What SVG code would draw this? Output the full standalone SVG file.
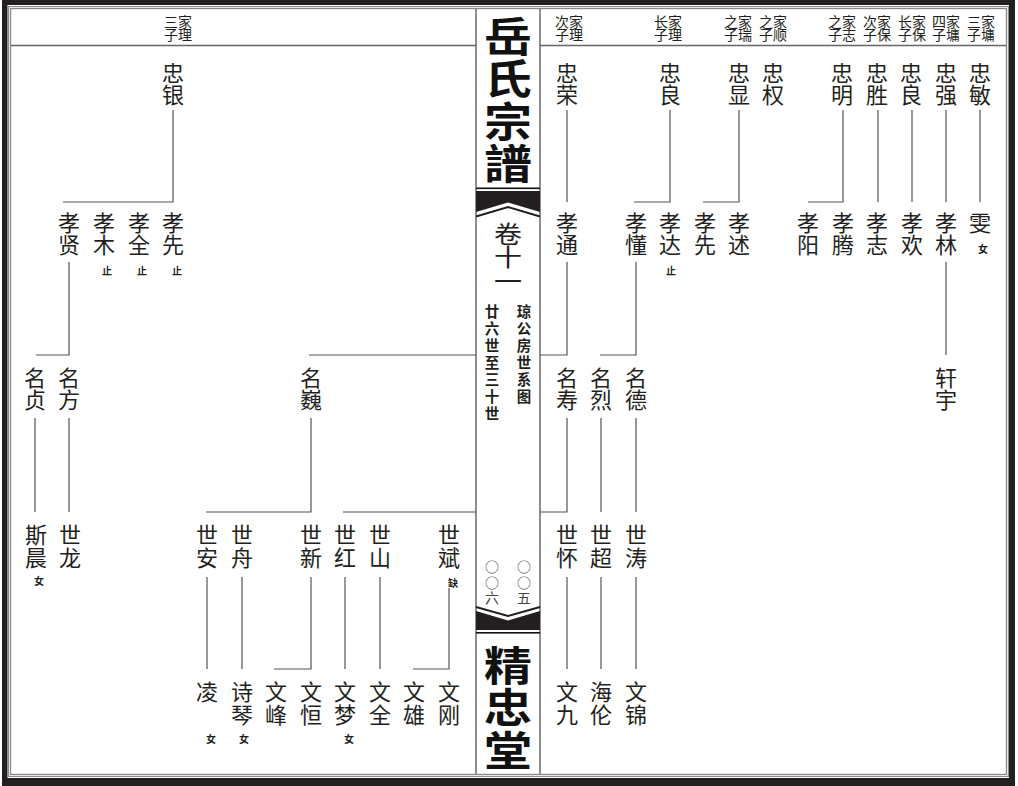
<svg xmlns="http://www.w3.org/2000/svg" width="1018" height="786" viewBox="0 0 1018 786">
<style>
text{font-family:"Noto Sans CJK SC","Noto Sans CJK TC",sans-serif;fill:#231f20;text-anchor:middle}
.n,.h,.m,.o,.t,.v{writing-mode:vertical-rl;text-anchor:start}
.n{font-size:22px;letter-spacing:0.5px}
.h{font-size:14px;letter-spacing:-0.5px}
.s{font-size:10px;font-weight:bold}
.t{font-size:48px;font-weight:bold;fill:#111;letter-spacing:2px}
.v{font-size:28px;letter-spacing:-0.4px}
.m{font-size:14.5px;font-weight:bold;letter-spacing:2.5px}
.o{font-size:14px;fill:#444;letter-spacing:1.5px}
.ln{fill:none;stroke:#555;stroke-width:1.2}
.fr{fill:none;stroke:#8a8a8a;stroke-width:1.2}
</style>
<rect width="1018" height="786" fill="#fff"/>
<g id="frame">
<path d="M2 0H1015V786H2Z M7.5 5V778H1009V5Z" fill="#231f20" fill-rule="evenodd"/>
<rect class="fr" x="8.6" y="6.6" width="999.8" height="769.8"/>
<rect class="fr" x="10.6" y="8.6" width="995.8" height="765.8"/>
<line x1="476" y1="9" x2="476" y2="774" stroke="#444" stroke-width="1.2"/>
<line x1="540" y1="9" x2="540" y2="774" stroke="#444" stroke-width="1.2"/>
<line x1="11" y1="45.5" x2="476" y2="45.5" stroke="#666" stroke-width="1.5"/>
<line x1="540" y1="45.5" x2="1006" y2="45.5" stroke="#666" stroke-width="1.5"/>
</g>
<g id="spine">
<text class="t" transform="translate(508,0) scale(1,0.85)" x="0" y="18.4">岳氏宗譜</text>
<rect x="476" y="187.5" width="64" height="1.6" fill="#111"/>
<polygon points="476,191 540,191 540,212 508,202.5 476,212" fill="#231f20"/>
<polyline points="476,216.5 508,207 540,216.5" fill="none" stroke="#231f20" stroke-width="2"/>
<text class="v" transform="translate(508,0) scale(1,0.85)" x="0" y="261.3">卷十一</text>
<text class="m" x="524" y="304.5">琼公房世系图</text>
<text class="m" x="492" y="304.5">廿六世至三十世</text>
<text class="o" x="524" y="560">○○五</text>
<text class="o" x="492" y="560">○○六</text>
<polyline points="476,607 508,616 540,607" fill="none" stroke="#231f20" stroke-width="2"/>
<polygon points="476,611 508,620.5 540,611 540,630 476,630" fill="#231f20"/>
<rect x="476" y="632" width="64" height="1.6" fill="#111"/>
<text class="t" transform="translate(508,0) scale(1,0.85)" x="0" y="758.4">精忠堂</text>
</g>
<g id="headers">
<text class="h" x="185" y="14.5">家理</text><text class="h" x="171" y="14.5">三子</text>
<text class="h" x="576" y="14.5">家理</text><text class="h" x="562" y="14.5">次子</text>
<text class="h" x="675" y="14.5">家理</text><text class="h" x="661" y="14.5">长子</text>
<text class="h" x="745" y="14.5">家瑞</text><text class="h" x="731" y="14.5">之子</text>
<text class="h" x="780" y="14.5">家顺</text><text class="h" x="766" y="14.5">之子</text>
<text class="h" x="849" y="14.5">家志</text><text class="h" x="835" y="14.5">之子</text>
<text class="h" x="884" y="14.5">家保</text><text class="h" x="870" y="14.5">次子</text>
<text class="h" x="919" y="14.5">家保</text><text class="h" x="905" y="14.5">长子</text>
<text class="h" x="953" y="14.5">家墉</text><text class="h" x="939" y="14.5">四子</text>
<text class="h" x="988" y="14.5">家墉</text><text class="h" x="974" y="14.5">三子</text>
</g>
<g id="connectors">
<path class="ln" d="M173 110V202H63"/>
<path class="ln" d="M69 262V355H36"/>
<path class="ln" d="M567 262V355H540M476 355H309"/>
<path class="ln" d="M311 418V512H206"/>
<path class="ln" d="M35 418V512M69 418V512"/>
<path class="ln" d="M567 418V512H540M476 512H343"/>
<path class="ln" d="M601 418V512M636 418V512"/>
<path class="ln" d="M636 262V355H600"/>
<path class="ln" d="M946 262V355"/>
<path class="ln" d="M207 577V669M242 577V669M345 577V669M380 577V669"/>
<path class="ln" d="M311 577V669H274"/>
<path class="ln" d="M449 588V669H413"/>
<path class="ln" d="M567 577V669M601 577V669M636 577V669"/>
<path class="ln" d="M567 110V202"/>
<path class="ln" d="M670 110V202H634"/>
<path class="ln" d="M739 110V202H703"/>
<path class="ln" d="M843 110V202H808"/>
<path class="ln" d="M878 110V202M912 110V202M946 110V202M980 110V202"/>
</g>
<g id="n-zhongyin"><text class="n" x="173" y="61.5">忠银</text></g>
<g id="n-xiaoxian"><text class="n" x="69" y="211.5">孝贤</text></g>
<g id="n-xiaomu"><text class="n" x="104" y="211.5">孝木</text><text class="s" x="107" y="275">止</text></g>
<g id="n-xiaoquan"><text class="n" x="139" y="211.5">孝全</text><text class="s" x="142" y="275">止</text></g>
<g id="n-xiaoxian2"><text class="n" x="173" y="211.5">孝先</text><text class="s" x="177" y="275">止</text></g>
<g id="n-mingzhen"><text class="n" x="35" y="366.5">名贞</text></g>
<g id="n-mingfang"><text class="n" x="69" y="366.5">名方</text></g>
<g id="n-mingwei"><text class="n" x="311" y="366.5">名巍</text></g>
<g id="n-sichen"><text class="n" x="36" y="524">斯晨</text><text class="s" x="39" y="584.5">女</text></g>
<g id="n-shilong"><text class="n" x="70" y="524">世龙</text></g>
<g id="n-shian"><text class="n" x="207" y="524">世安</text></g>
<g id="n-shizhou"><text class="n" x="242" y="524">世舟</text></g>
<g id="n-shixin"><text class="n" x="311" y="524">世新</text></g>
<g id="n-shihong"><text class="n" x="345" y="524">世红</text></g>
<g id="n-shishan"><text class="n" x="380" y="524">世山</text></g>
<g id="n-shibin"><text class="n" x="449" y="524">世斌</text><text class="s" x="453" y="586.5">缺</text></g>
<g id="n-ling"><text class="n" x="207" y="681">凌</text><text class="s" x="211" y="742.5">女</text></g>
<g id="n-shiqin"><text class="n" x="242" y="681">诗琴</text><text class="s" x="244" y="742.5">女</text></g>
<g id="n-wenfeng"><text class="n" x="276" y="681">文峰</text></g>
<g id="n-wenheng"><text class="n" x="311" y="681">文恒</text></g>
<g id="n-wenmeng"><text class="n" x="345" y="681">文梦</text><text class="s" x="349" y="742.5">女</text></g>
<g id="n-wenquan"><text class="n" x="380" y="681">文全</text></g>
<g id="n-wenxiong"><text class="n" x="414" y="681">文雄</text></g>
<g id="n-wengang"><text class="n" x="449" y="681">文刚</text></g>
<g id="n-zhongrong"><text class="n" x="567" y="61.5">忠荣</text></g>
<g id="n-zhongliang"><text class="n" x="670" y="61.5">忠良</text></g>
<g id="n-zhongxian"><text class="n" x="739" y="61.5">忠显</text></g>
<g id="n-zhongquan"><text class="n" x="773" y="61.5">忠权</text></g>
<g id="n-zhongming"><text class="n" x="842" y="61.5">忠明</text></g>
<g id="n-zhongsheng"><text class="n" x="877" y="61.5">忠胜</text></g>
<g id="n-zhongliang2"><text class="n" x="911" y="61.5">忠良</text></g>
<g id="n-zhongqiang"><text class="n" x="946" y="61.5">忠强</text></g>
<g id="n-zhongmin"><text class="n" x="980" y="61.5">忠敏</text></g>
<g id="n-xiaotong"><text class="n" x="567" y="211.5">孝通</text></g>
<g id="n-xiaodong"><text class="n" x="636" y="211.5">孝懂</text></g>
<g id="n-xiaoda"><text class="n" x="670" y="211.5">孝达</text><text class="s" x="671" y="275">止</text></g>
<g id="n-xiaoxian3"><text class="n" x="705" y="211.5">孝先</text></g>
<g id="n-xiaoshu"><text class="n" x="739" y="211.5">孝述</text></g>
<g id="n-xiaoyang"><text class="n" x="808" y="211.5">孝阳</text></g>
<g id="n-xiaoteng"><text class="n" x="843" y="211.5">孝腾</text></g>
<g id="n-xiaozhi"><text class="n" x="877" y="211.5">孝志</text></g>
<g id="n-xiaohuan"><text class="n" x="912" y="211.5">孝欢</text></g>
<g id="n-xiaolin"><text class="n" x="946" y="211.5">孝林</text></g>
<g id="n-wen"><text class="n" x="980" y="211.5">雯</text><text class="s" x="983" y="252.5">女</text></g>
<g id="n-mingshou"><text class="n" x="567" y="366.5">名寿</text></g>
<g id="n-minglie"><text class="n" x="601" y="366.5">名烈</text></g>
<g id="n-mingde"><text class="n" x="636" y="366.5">名德</text></g>
<g id="n-xuanyu"><text class="n" x="946" y="366.5">轩宇</text></g>
<g id="n-shihuai"><text class="n" x="567" y="524">世怀</text></g>
<g id="n-shichao"><text class="n" x="601" y="524">世超</text></g>
<g id="n-shitao"><text class="n" x="636" y="524">世涛</text></g>
<g id="n-wenjiu"><text class="n" x="567" y="681">文九</text></g>
<g id="n-hailun"><text class="n" x="601" y="681">海伦</text></g>
<g id="n-wenjin"><text class="n" x="636" y="681">文锦</text></g>
</svg>
